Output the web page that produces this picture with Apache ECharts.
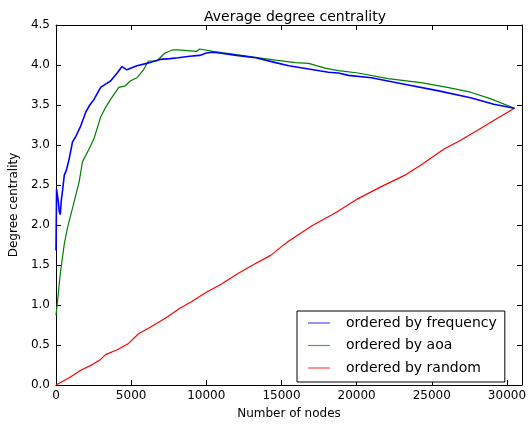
<!DOCTYPE html>
<html>
<head>
<meta charset="utf-8">
<title>Average degree centrality</title>
<script src="https://cdn.jsdelivr.net/npm/echarts@6/dist/echarts.min.js"></script>
<style>
  html, body { margin: 0; padding: 0; background: #fff; }
  #chart { width: 529px; height: 425px; }
</style>
</head>
<body>
<div id="chart"></div>
<script>
// values
const freqNodes = [0, 40, 110, 150, 220, 285, 350, 450, 550, 660, 725, 880, 1100, 1300, 1650, 1980, 2250, 2530, 2970, 3300, 3630, 4070, 4390, 4720, 4840, 5380, 6040, 6920, 7580, 8130, 8900, 9560, 10000, 10440, 10880, 12000, 13290, 14610, 15490, 16810, 18130, 18790, 19450, 20980, 23180, 25380, 27580, 29120, 30500];
const freqValues = [1.68, 2.45, 2.44, 2.3, 2.17, 2.13, 2.3, 2.45, 2.62, 2.67, 2.71, 2.83, 3.04, 3.1, 3.24, 3.41, 3.5, 3.57, 3.72, 3.76, 3.8, 3.9, 3.98, 3.94, 3.95, 3.99, 4.02, 4.07, 4.08, 4.09, 4.11, 4.12, 4.15, 4.16, 4.15, 4.12, 4.09, 4.03, 3.99, 3.95, 3.91, 3.9, 3.87, 3.84, 3.76, 3.68, 3.59, 3.51, 3.46];

const aoaNodes = [0, 110, 285, 550, 770, 1100, 1540, 1760, 1870, 2200, 2530, 2970, 3300, 3630, 4180, 4610, 4940, 5380, 5820, 6150, 6700, 7250, 7800, 8130, 9340, 9560, 10440, 12000, 13510, 14610, 15930, 16810, 17910, 18790, 20100, 22080, 24280, 26040, 27580, 28890, 30500];
const aoaValues = [0.87, 1.06, 1.39, 1.76, 1.97, 2.21, 2.54, 2.79, 2.83, 2.95, 3.08, 3.35, 3.47, 3.57, 3.72, 3.74, 3.8, 3.84, 3.94, 4.05, 4.05, 4.15, 4.19, 4.19, 4.17, 4.2, 4.17, 4.13, 4.09, 4.06, 4.03, 4.02, 3.96, 3.93, 3.9, 3.83, 3.78, 3.72, 3.66, 3.58, 3.46];

const randomNodes = [0, 880, 1650, 2420, 2970, 3300, 4070, 4830, 5490, 6150, 7250, 8240, 9010, 10000, 10990, 12080, 13180, 14280, 14940, 15490, 17030, 18570, 20000, 21640, 23290, 24280, 25820, 26920, 28020, 29340, 30500];
const randomValues = [0, 0.09, 0.185, 0.255, 0.32, 0.38, 0.44, 0.52, 0.64, 0.71, 0.83, 0.96, 1.04, 1.16, 1.26, 1.39, 1.51, 1.62, 1.72, 1.8, 1.99, 2.15, 2.32, 2.48, 2.63, 2.75, 2.95, 3.06, 3.18, 3.33, 3.46];

const seriesNames = ["ordered by frequency", "ordered by aoa", "ordered by random"];
const seriesColors = ["#0000ff", "#008000", "#ff0000"];

const pairs = (xs, ys) => xs.map((x, i) => [x, ys[i]]);

const font = "DejaVu Sans";

const baseAxis = {
    type: "value",
    axisLine: { show: true, onZero: false, lineStyle: { color: "#000", width: 1 } },
    axisTick: { show: true, inside: true, length: 5, lineStyle: { color: "#000" } },
    splitLine: { show: false }
};

const getOption = () => {
    const data = [
        pairs(freqNodes, freqValues),
        pairs(aoaNodes, aoaValues),
        pairs(randomNodes, randomValues)
    ];

    return {
        animation: false,
        backgroundColor: "#fff",
        textStyle: { fontFamily: font },
        title: {
            text: "Average degree centrality",
            left: 290,
            textAlign: "center",
            top: 5,
            textStyle: { fontFamily: font, fontSize: 14, fontWeight: "normal", color: "#000" }
        },
        grid: { left: 55, top: 25, right: 4, bottom: 36 },
        legend: {
            orient: "vertical",
            left: 297,
            top: 311,
            padding: [5, 8, 7, 11],
            itemWidth: 22,
            itemHeight: 14,
            itemGap: 8.5,
            borderColor: "#000",
            borderWidth: 1,
            backgroundColor: "#fff",
            icon: "path://M0,6 L22,6 L22,7.2 L0,7.2 Z",
            itemStyle: { opacity: 0.7, borderWidth: 0 },
            textStyle: { fontFamily: font, fontSize: 14, color: "#000", padding: [0, 0, 0, 11] },
            data: seriesNames
        },
        xAxis: [
            Object.assign({}, baseAxis, {
                min: 0,
                max: 31000,
                interval: 5000,
                name: "Number of nodes",
                nameLocation: "middle",
                nameGap: 23,
                nameTextStyle: { fontFamily: font, fontSize: 12, color: "#000" },
                axisLabel: { fontFamily: font, fontSize: 12, color: "#000", margin: 5, showMaxLabel: false, formatter: v => String(v) }
            }),
            Object.assign({}, baseAxis, {
                position: "top",
                min: 0,
                max: 31000,
                interval: 5000,
                axisLabel: { show: false }
            })
        ],
        yAxis: [
            Object.assign({}, baseAxis, {
                min: 0,
                max: 4.5,
                interval: 0.5,
                name: "Degree centrality",
                nameLocation: "middle",
                nameGap: 29,
                nameTextStyle: { fontFamily: font, fontSize: 12, color: "#000" },
                axisLabel: { fontFamily: font, fontSize: 12, color: "#000", margin: 6, formatter: v => v.toFixed(1) }
            }),
            Object.assign({}, baseAxis, {
                position: "right",
                min: 0,
                max: 4.5,
                interval: 0.5,
                axisLabel: { show: false }
            })
        ],
        series: seriesNames.map((name, i) => ({
            name: name,
            type: "line",
            data: data[i],
            showSymbol: false,
            symbol: "none",
            color: seriesColors[i],
            lineStyle: { color: seriesColors[i], width: i === 0 ? 1.6 : 1.2 },
            z: 3 - i
        }))
    };
};

document.addEventListener("DOMContentLoaded", function() {
    const chart = echarts.init(document.getElementById("chart"), null, { renderer: "canvas" });
    chart.setOption(getOption());
});
</script>
</body>
</html>
